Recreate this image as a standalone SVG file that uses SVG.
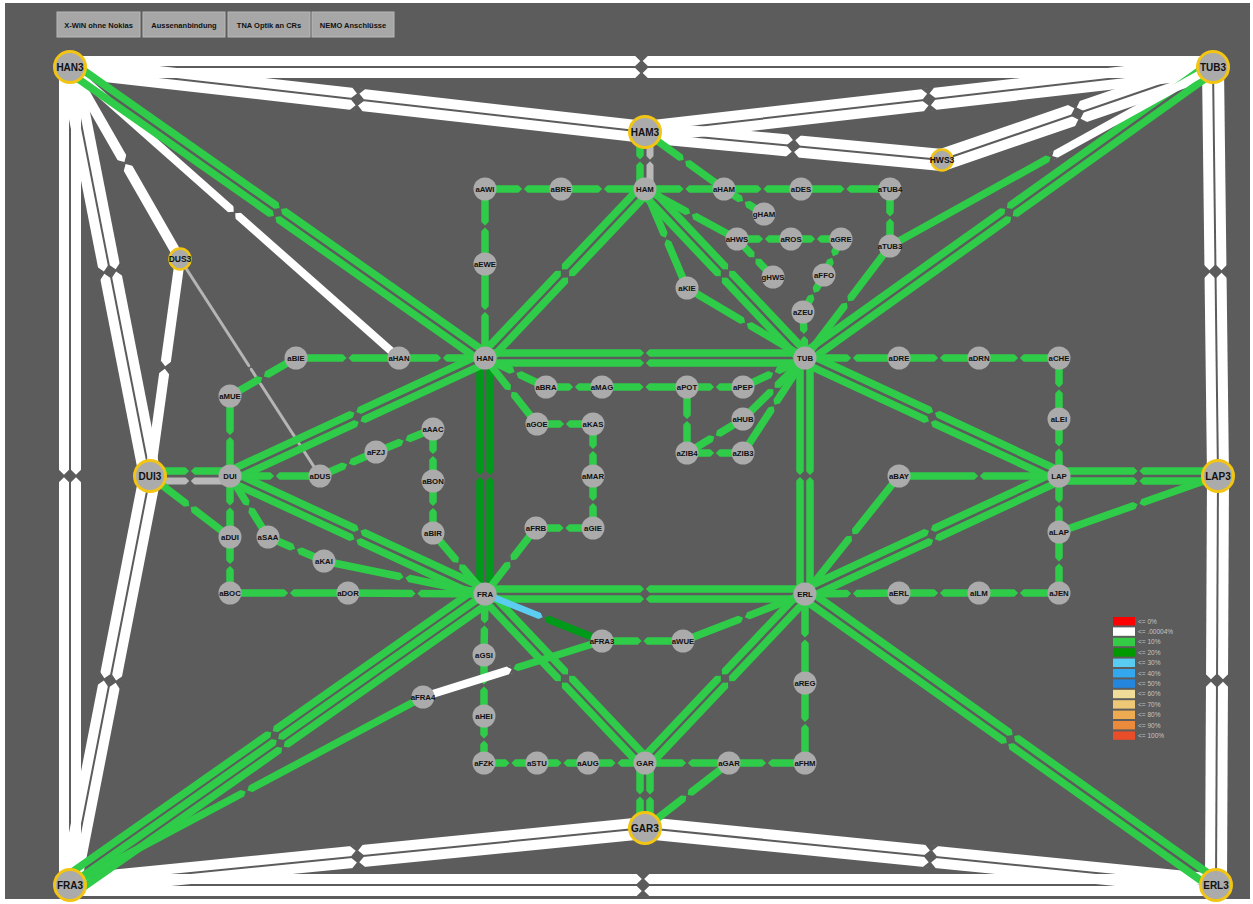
<svg xmlns="http://www.w3.org/2000/svg" width="1253" height="904" viewBox="0 0 1253 904">
<style>
.l{fill:none;stroke-linecap:butt;marker-mid:url(#n)}
.h{fill:none;stroke-linecap:butt}
.e{marker-end:url(#n)}
.w{stroke:#ffffff;stroke-width:10}
.wt{stroke:#ffffff;stroke-width:8}
.g{stroke:#2ecc48;stroke-width:7.5}
.dg{stroke:#009a1a;stroke-width:7.5}
.lb{stroke:#5bcdf0;stroke-width:6.5}
.gr{stroke:#b9b9b9;stroke-width:7}
.gt{stroke:#b5b5b5;stroke-width:3}
.nd circle{fill:#ababab}
.nd text{font-family:"Liberation Sans",Arial,sans-serif;font-weight:bold;font-size:7.8px;fill:#111;text-anchor:middle}
.big circle{fill:#ababab;stroke:#f2c514;stroke-width:3}
.big text{font-family:"Liberation Sans",Arial,sans-serif;font-weight:bold;font-size:10px;fill:#111;text-anchor:middle}
.sm circle{fill:#ababab;stroke:#f2c514;stroke-width:2.5}
.sm text{font-family:"Liberation Sans",Arial,sans-serif;font-weight:bold;font-size:8.5px;fill:#111;text-anchor:middle}
.btn rect{fill:#a7a7a7;stroke:#b8b8b8;stroke-width:1}
.btn text{font-family:"Liberation Sans",Arial,sans-serif;font-weight:bold;font-size:7.5px;fill:#111;text-anchor:middle}
.lg text{font-family:"Liberation Sans",Arial,sans-serif;font-size:6.5px;fill:#c4c4c4}
</style>
<defs>
<marker id="n" viewBox="-2 -1 4 2" markerWidth="4" markerHeight="2" refX="0" refY="0" orient="auto" markerUnits="strokeWidth">
<path d="M-0.68,-0.56L0.68,-0.56L0.12,0L0.68,0.56L-0.68,0.56L-0.12,0Z" fill="#5c5c5c"/>
</marker>
</defs>
<rect x="0" y="0" width="1253" height="904" fill="#ffffff"/>
<rect x="5" y="3" width="1245" height="896" fill="#5c5c5c"/>

<g id="buttons">
<g class="btn" id="btn-xwin"><rect x="57" y="12" width="83" height="25"/><text x="98.5" y="27.5">X-WiN ohne Nokias</text></g>
<g class="btn" id="btn-aussen"><rect x="143" y="12" width="82" height="25"/><text x="184" y="27.5">Aussenanbindung</text></g>
<g class="btn" id="btn-tna"><rect x="228" y="12" width="82" height="25"/><text x="269" y="27.5">TNA Optik an CRs</text></g>
<g class="btn" id="btn-nemo"><rect x="312" y="12" width="82" height="25"/><text x="353" y="27.5">NEMO Anschlüsse</text></g>
</g>

<g id="connectors">
<!-- white backbone -->
<path class="l w" d="M70,61L641.5,61L1213,61"/>
<path class="l w" d="M70,73L641.5,73L1213,73"/>
<path class="l w" d="M70.67,61.04L358.17,93.54L645.67,126.04"/>
<path class="l w" d="M69.33,72.96L356.83,105.46L644.33,137.96"/>
<path class="l w" d="M644.32,126.04L928.32,93.54L1212.32,61.04"/>
<path class="l w" d="M645.68,137.96L929.68,105.46L1213.68,72.96"/>
<path class="l w" d="M645.56,126.03L794.06,140.03L942.56,154.03"/>
<path class="l w" d="M644.44,137.97L792.94,151.97L941.44,165.97"/>
<path class="l w" d="M940.05,154.32L1075.55,107.82L1211.05,61.32"/>
<path class="l w" d="M943.95,165.68L1079.45,119.18L1214.95,72.68"/>
<path class="l w" d="M64,67L64,476L64,885"/>
<path class="l w" d="M76,67L76,476L76,885"/>
<path class="l w" d="M64.11,68.15L104.11,272.65L144.11,477.15"/>
<path class="l w" d="M75.89,65.85L115.89,270.35L155.89,474.85"/>
<path class="l w" d="M70,67L125,163L180,259"/>
<path class="l w" d="M180,259L165,367.5L150,476"/>
<path class="l w" d="M144.11,474.85L104.11,679.35L64.11,883.85"/>
<path class="l w" d="M155.89,477.15L115.89,681.65L75.89,886.15"/>
<path class="l w" d="M69.41,879.03L356.91,850.53L644.41,822.03"/>
<path class="l w" d="M70.59,890.97L358.09,862.47L645.59,833.97"/>
<path class="l w" d="M70,879L643,879L1216,879"/>
<path class="l w" d="M70,891L643,891L1216,891"/>
<path class="l w" d="M645.6,822.03L931.1,850.53L1216.6,879.03"/>
<path class="l w" d="M644.4,833.97L929.9,862.47L1215.4,890.97"/>
<path class="l w" d="M1207,67L1209.5,271.5L1212,476"/>
<path class="l w" d="M1219,67L1221.5,271.5L1224,476"/>
<path class="l w" d="M1212,476L1211,680.5L1210,885"/>
<path class="l w" d="M1224,476L1223,680.5L1222,885"/>
<path class="l wt" d="M70,67L234.5,212.5L399,358"/>
<!-- gray -->
<path class="l gt" d="M180,259L250,367.5L320,476"/>
<path class="l gr" d="M650,132L650,160.5L650,189"/>
<path class="l gr" d="M150,481L190,481L230,481"/>
<!-- green pairs -->
<path class="l g" d="M67.13,71.09L274.63,216.59L482.13,362.09"/>
<path class="l g" d="M72.87,62.91L280.37,208.41L487.87,353.91"/>
<path class="l g" d="M1210.1,62.93L1006.1,208.43L802.1,353.93"/>
<path class="l g" d="M1215.9,71.07L1011.9,216.57L807.9,362.07"/>
<path class="l g" d="M64.55,877.22L272.05,731.72L479.55,586.22"/>
<path class="l g" d="M70,885L277.5,739.5L485,594"/>
<path class="l g" d="M75.45,892.78L282.95,747.28L490.45,601.78"/>
<path class="l g" d="M1218.9,880.92L1013.4,735.42L807.9,589.92"/>
<path class="l g" d="M1213.1,889.08L1007.6,743.58L802.1,598.08"/>
<path class="l g" d="M485,353L645,353L805,353"/>
<path class="l g" d="M485,363L645,363L805,363"/>
<path class="l g" d="M485,589L645,589L805,589"/>
<path class="l g" d="M485,599L645,599L805,599"/>
<path class="l dg" d="M480,358L480,476L480,594"/>
<path class="l dg" d="M490,358L490,476L490,594"/>
<path class="l g" d="M800,358L800,476L800,594"/>
<path class="l g" d="M810,358L810,476L810,594"/>
<path class="l g" d="M488.63,361.44L568.63,276.94L648.63,192.44"/>
<path class="l g" d="M481.37,354.56L561.37,270.06L641.37,185.56"/>
<path class="l g" d="M641.37,192.44L721.37,276.94L801.37,361.44"/>
<path class="l g" d="M648.63,185.56L728.63,270.06L808.63,354.56"/>
<path class="l g" d="M482.9,353.46L355.4,412.46L227.9,471.46"/>
<path class="l g" d="M487.1,362.54L359.6,421.54L232.1,480.54"/>
<path class="l g" d="M487.1,589.46L359.6,530.46L232.1,471.46"/>
<path class="l g" d="M482.9,598.54L355.4,539.54L227.9,480.54"/>
<path class="l g" d="M802.89,362.53L929.89,421.53L1056.89,480.53"/>
<path class="l g" d="M807.11,353.47L934.11,412.47L1061.11,471.47"/>
<path class="l g" d="M807.11,598.53L934.11,539.53L1061.11,480.53"/>
<path class="l g" d="M802.89,589.47L929.89,530.47L1056.89,471.47"/>
<path class="l g" d="M481.37,597.44L561.37,681.94L641.37,766.44"/>
<path class="l g" d="M488.63,590.56L568.63,675.06L648.63,759.56"/>
<path class="l g" d="M801.37,590.56L721.37,675.06L641.37,759.56"/>
<path class="l g" d="M808.63,597.44L728.63,681.94L648.63,766.44"/>
<path class="l g" d="M640,763L640,795.5L640,828"/>
<path class="l g" d="M650,763L650,795.5L650,828"/>
<path class="l g" d="M1059,471L1138.5,471L1218,471"/>
<path class="l g" d="M1059,481L1138.5,481L1218,481"/>
<path class="l g" d="M150,471L190,471L230,471"/>
<path class="l g" d="M640,132L640,160.5L640,189"/>
<!-- green singles -->
<path class="l g" d="M485,189L523,189L561,189"/>
<path class="l g" d="M561,189L603,189L645,189"/>
<path class="l g" d="M645,189L684.5,189L724,189"/>
<path class="l g" d="M724,189L762.5,189L801,189"/>
<path class="l g" d="M801,189L845.5,189L890,189"/>
<path class="l g" d="M645,132L684.5,160.5L724,189"/>
<path class="l g" d="M724,189L744,201.5L764,214"/>
<path class="l g" d="M890,189L890,217.5L890,246"/>
<path class="l g" d="M645,189L691,214L737,239"/>
<path class="l g" d="M737,239L764,239L791,239"/>
<path class="l g" d="M791,239L816,239L841,239"/>
<path class="l g" d="M737,239L755,258L773,277"/>
<path class="l g" d="M841,239L832.5,257L824,275"/>
<path class="l g" d="M824,275L813.5,293.5L803,312"/>
<path class="l g" d="M803,312L804,335L805,358"/>
<path class="l g" d="M645,189L666,238.5L687,288"/>
<path class="l g" d="M687,288L746,323L805,358"/>
<path class="l g" d="M890,246L847.5,302L805,358"/>
<path class="l g" d="M485,189L485,226.5L485,264"/>
<path class="l g" d="M485,264L485,311L485,358"/>
<path class="l g" d="M296,358L347.5,358L399,358"/>
<path class="l g" d="M399,358L442,358L485,358"/>
<path class="l g" d="M230,396L263,377L296,358"/>
<path class="l g" d="M230,396L230,436L230,476"/>
<path class="l g" d="M485,358L515.5,372.5L546,387"/>
<path class="l g" d="M546,387L574,387L602,387"/>
<path class="l g" d="M602,387L644.5,387L687,387"/>
<path class="l g" d="M687,387L715,387L743,387"/>
<path class="l g" d="M743,387L774,372.5L805,358"/>
<path class="l g" d="M485,358L511,391L537,424"/>
<path class="l g" d="M537,424L565,424L593,424"/>
<path class="l g" d="M593,424L593,450L593,476"/>
<path class="l g" d="M593,476L593,502L593,528"/>
<path class="l g" d="M593,528L564.5,528L536,528"/>
<path class="l g" d="M536,528L510.5,561L485,594"/>
<path class="l g" d="M687,387L687,420L687,453"/>
<path class="l g" d="M687,453L715,453L743,453"/>
<path class="l g" d="M687,453L715,436L743,419"/>
<path class="l g" d="M743,419L774,388.5L805,358"/>
<path class="l g" d="M743,453L774,405.5L805,358"/>
<path class="l g" d="M805,358L852,358L899,358"/>
<path class="l g" d="M899,358L939,358L979,358"/>
<path class="l g" d="M979,358L1019,358L1059,358"/>
<path class="l g" d="M1059,358L1059,388.5L1059,419"/>
<path class="l g" d="M1059,419L1059,447.5L1059,476"/>
<path class="l g" d="M1059,476L1059,504L1059,532"/>
<path class="l g" d="M1059,532L1059,562.5L1059,593"/>
<path class="l g" d="M1059,593L1019,593L979,593"/>
<path class="l g" d="M979,593L939,593L899,593"/>
<path class="l g" d="M899,593L852,593.5L805,594"/>
<path class="l g" d="M899,476L979,476L1059,476"/>
<path class="l g" d="M899,476L852,535L805,594"/>
<path class="l g" d="M1059,532L1138.5,504L1218,476"/>
<path class="l g" d="M230,476L275,476L320,476"/>
<path class="l g" d="M320,476L348,464L376,452"/>
<path class="l g" d="M376,452L404.5,440.5L433,429"/>
<path class="l g" d="M433,429L433,455L433,481"/>
<path class="l g" d="M433,481L433,507L433,533"/>
<path class="l g" d="M433,533L459,563.5L485,594"/>
<path class="l g" d="M230,476L230,506.5L230,537"/>
<path class="l g" d="M230,537L230,565L230,593"/>
<path class="l g" d="M230,593L289,593L348,593"/>
<path class="l g" d="M348,593L416.5,593.5L485,594"/>
<path class="l g" d="M230,476L249,506.5L268,537"/>
<path class="l g" d="M268,537L296,549L324,561"/>
<path class="l g" d="M324,561L404.5,577.5L485,594"/>
<path class="l g" d="M150,476L190,506.5L230,537"/>
<path class="l g" d="M485,594L484.5,624.5L484,655"/>
<path class="l g" d="M484,655L484,685.5L484,716"/>
<path class="l g" d="M484,716L484,739.5L484,763"/>
<path class="l g" d="M484,763L510.5,763L537,763"/>
<path class="l g" d="M537,763L562.5,763L588,763"/>
<path class="l g" d="M588,763L616.5,763L645,763"/>
<path class="l g" d="M602,641L642.5,641L683,641"/>
<path class="l g" d="M683,641L744,617.5L805,594"/>
<path class="l g" d="M645,763L687,763L729,763"/>
<path class="l g" d="M729,763L767,763L805,763"/>
<path class="l g" d="M805,763L805,723L805,683"/>
<path class="l g" d="M805,683L805,638.5L805,594"/>
<path class="l g" d="M729,763L687,795.5L645,828"/>
<path class="l g" d="M70,885L246.5,791L423,697"/>
<!-- two-coloured links -->
<path class="h wt" d="M1213,67L1051.5,156.5"/>
<path class="h e g" d="M890,246L1051.5,156.5"/>
<path class="h wt" d="M423,697L512.5,669"/>
<path class="h e g" d="M602,641L512.5,669"/>
<path class="h lb" d="M485,594L543.5,617.5"/>
<path class="h e dg" d="M602,641L543.5,617.5"/>
</g>

<g id="nodes">
<g id="node-HAN3" class="big"><circle cx="70" cy="67" r="15.5"/><text x="70" y="70.5">HAN3</text></g>
<g id="node-TUB3" class="big"><circle cx="1213" cy="67" r="15.5"/><text x="1213" y="70.5">TUB3</text></g>
<g id="node-HAM3" class="big"><circle cx="645" cy="132" r="15.5"/><text x="645" y="135.5">HAM3</text></g>
<g id="node-HWS3" class="sm"><circle cx="942" cy="160" r="10.5"/><text x="942" y="163">HWS3</text></g>
<g id="node-DUS3" class="sm"><circle cx="180" cy="259" r="10.5"/><text x="180" y="262">DUS3</text></g>
<g id="node-DUI3" class="big"><circle cx="150" cy="476" r="15.5"/><text x="150" y="479.5">DUI3</text></g>
<g id="node-LAP3" class="big"><circle cx="1218" cy="476" r="15.5"/><text x="1218" y="479.5">LAP3</text></g>
<g id="node-FRA3" class="big"><circle cx="70" cy="885" r="15.5"/><text x="70" y="888.5">FRA3</text></g>
<g id="node-GAR3" class="big"><circle cx="645" cy="828" r="15.5"/><text x="645" y="831.5">GAR3</text></g>
<g id="node-ERL3" class="big"><circle cx="1216" cy="885" r="15.5"/><text x="1216" y="888.5">ERL3</text></g>

<g id="node-aAWI" class="nd"><circle cx="485" cy="189" r="11.5"/><text x="485" y="191.8">aAWI</text></g>
<g id="node-aBRE" class="nd"><circle cx="561" cy="189" r="11.5"/><text x="561" y="191.8">aBRE</text></g>
<g id="node-HAM" class="nd"><circle cx="645" cy="189" r="11.5"/><text x="645" y="191.8">HAM</text></g>
<g id="node-aHAM" class="nd"><circle cx="724" cy="189" r="11.5"/><text x="724" y="191.8">aHAM</text></g>
<g id="node-aDES" class="nd"><circle cx="801" cy="189" r="11.5"/><text x="801" y="191.8">aDES</text></g>
<g id="node-aTUB4" class="nd"><circle cx="890" cy="189" r="11.5"/><text x="890" y="191.8">aTUB4</text></g>
<g id="node-gHAM" class="nd"><circle cx="764" cy="214" r="11.5"/><text x="764" y="216.8">gHAM</text></g>
<g id="node-aHWS" class="nd"><circle cx="737" cy="239" r="11.5"/><text x="737" y="241.8">aHWS</text></g>
<g id="node-aROS" class="nd"><circle cx="791" cy="239" r="11.5"/><text x="791" y="241.8">aROS</text></g>
<g id="node-aGRE" class="nd"><circle cx="841" cy="239" r="11.5"/><text x="841" y="241.8">aGRE</text></g>
<g id="node-aTUB3" class="nd"><circle cx="890" cy="246" r="11.5"/><text x="890" y="248.8">aTUB3</text></g>
<g id="node-gHWS" class="nd"><circle cx="773" cy="277" r="11.5"/><text x="773" y="279.8">gHWS</text></g>
<g id="node-aFFO" class="nd"><circle cx="824" cy="275" r="11.5"/><text x="824" y="277.8">aFFO</text></g>
<g id="node-aKIE" class="nd"><circle cx="687" cy="288" r="11.5"/><text x="687" y="290.8">aKIE</text></g>
<g id="node-aZEU" class="nd"><circle cx="803" cy="312" r="11.5"/><text x="803" y="314.8">aZEU</text></g>
<g id="node-aEWE" class="nd"><circle cx="485" cy="264" r="11.5"/><text x="485" y="266.8">aEWE</text></g>
<g id="node-aBIE" class="nd"><circle cx="296" cy="358" r="11.5"/><text x="296" y="360.8">aBIE</text></g>
<g id="node-aHAN" class="nd"><circle cx="399" cy="358" r="11.5"/><text x="399" y="360.8">aHAN</text></g>
<g id="node-HAN" class="nd"><circle cx="485" cy="358" r="11.5"/><text x="485" y="360.8">HAN</text></g>
<g id="node-TUB" class="nd"><circle cx="805" cy="358" r="11.5"/><text x="805" y="360.8">TUB</text></g>
<g id="node-aDRE" class="nd"><circle cx="899" cy="358" r="11.5"/><text x="899" y="360.8">aDRE</text></g>
<g id="node-aDRN" class="nd"><circle cx="979" cy="358" r="11.5"/><text x="979" y="360.8">aDRN</text></g>
<g id="node-aCHE" class="nd"><circle cx="1059" cy="358" r="11.5"/><text x="1059" y="360.8">aCHE</text></g>
<g id="node-aBRA" class="nd"><circle cx="546" cy="387" r="11.5"/><text x="546" y="389.8">aBRA</text></g>
<g id="node-aMAG" class="nd"><circle cx="602" cy="387" r="11.5"/><text x="602" y="389.8">aMAG</text></g>
<g id="node-aPOT" class="nd"><circle cx="687" cy="387" r="11.5"/><text x="687" y="389.8">aPOT</text></g>
<g id="node-aPEP" class="nd"><circle cx="743" cy="387" r="11.5"/><text x="743" y="389.8">aPEP</text></g>
<g id="node-aMUE" class="nd"><circle cx="230" cy="396" r="11.5"/><text x="230" y="398.8">aMUE</text></g>
<g id="node-aHUB" class="nd"><circle cx="743" cy="419" r="11.5"/><text x="743" y="421.8">aHUB</text></g>
<g id="node-aLEI" class="nd"><circle cx="1059" cy="419" r="11.5"/><text x="1059" y="421.8">aLEI</text></g>
<g id="node-aGOE" class="nd"><circle cx="537" cy="424" r="11.5"/><text x="537" y="426.8">aGOE</text></g>
<g id="node-aKAS" class="nd"><circle cx="593" cy="424" r="11.5"/><text x="593" y="426.8">aKAS</text></g>
<g id="node-aAAC" class="nd"><circle cx="433" cy="429" r="11.5"/><text x="433" y="431.8">aAAC</text></g>
<g id="node-aZIB4" class="nd"><circle cx="687" cy="453" r="11.5"/><text x="687" y="455.8">aZIB4</text></g>
<g id="node-aZIB3" class="nd"><circle cx="743" cy="453" r="11.5"/><text x="743" y="455.8">aZIB3</text></g>
<g id="node-aFZJ" class="nd"><circle cx="376" cy="452" r="11.5"/><text x="376" y="454.8">aFZJ</text></g>
<g id="node-DUI" class="nd"><circle cx="230" cy="476" r="11.5"/><text x="230" y="478.8">DUI</text></g>
<g id="node-aDUS" class="nd"><circle cx="320" cy="476" r="11.5"/><text x="320" y="478.8">aDUS</text></g>
<g id="node-aBON" class="nd"><circle cx="433" cy="481" r="11.5"/><text x="433" y="483.8">aBON</text></g>
<g id="node-aMAR" class="nd"><circle cx="593" cy="476" r="11.5"/><text x="593" y="478.8">aMAR</text></g>
<g id="node-aBAY" class="nd"><circle cx="899" cy="476" r="11.5"/><text x="899" y="478.8">aBAY</text></g>
<g id="node-LAP" class="nd"><circle cx="1059" cy="476" r="11.5"/><text x="1059" y="478.8">LAP</text></g>
<g id="node-aFRB" class="nd"><circle cx="536" cy="528" r="11.5"/><text x="536" y="530.8">aFRB</text></g>
<g id="node-aGIE" class="nd"><circle cx="593" cy="528" r="11.5"/><text x="593" y="530.8">aGIE</text></g>
<g id="node-aBIR" class="nd"><circle cx="433" cy="533" r="11.5"/><text x="433" y="535.8">aBIR</text></g>
<g id="node-aDUI" class="nd"><circle cx="230" cy="537" r="11.5"/><text x="230" y="539.8">aDUI</text></g>
<g id="node-aSAA" class="nd"><circle cx="268" cy="537" r="11.5"/><text x="268" y="539.8">aSAA</text></g>
<g id="node-aLAP" class="nd"><circle cx="1059" cy="532" r="11.5"/><text x="1059" y="534.8">aLAP</text></g>
<g id="node-aKAI" class="nd"><circle cx="324" cy="561" r="11.5"/><text x="324" y="563.8">aKAI</text></g>
<g id="node-aBOC" class="nd"><circle cx="230" cy="593" r="11.5"/><text x="230" y="595.8">aBOC</text></g>
<g id="node-aDOR" class="nd"><circle cx="348" cy="593" r="11.5"/><text x="348" y="595.8">aDOR</text></g>
<g id="node-FRA" class="nd"><circle cx="485" cy="594" r="11.5"/><text x="485" y="596.8">FRA</text></g>
<g id="node-ERL" class="nd"><circle cx="805" cy="594" r="11.5"/><text x="805" y="596.8">ERL</text></g>
<g id="node-aERL" class="nd"><circle cx="899" cy="593" r="11.5"/><text x="899" y="595.8">aERL</text></g>
<g id="node-aILM" class="nd"><circle cx="979" cy="593" r="11.5"/><text x="979" y="595.8">aILM</text></g>
<g id="node-aJEN" class="nd"><circle cx="1059" cy="593" r="11.5"/><text x="1059" y="595.8">aJEN</text></g>
<g id="node-aFRA3" class="nd"><circle cx="602" cy="641" r="11.5"/><text x="602" y="643.6" font-size="7">aFRA3</text></g>
<g id="node-aWUE" class="nd"><circle cx="683" cy="641" r="11.5"/><text x="683" y="643.8">aWUE</text></g>
<g id="node-aGSI" class="nd"><circle cx="484" cy="655" r="11.5"/><text x="484" y="657.8">aGSI</text></g>
<g id="node-aFRA4" class="nd"><circle cx="423" cy="697" r="11.5"/><text x="423" y="699.6" font-size="7">aFRA4</text></g>
<g id="node-aREG" class="nd"><circle cx="805" cy="683" r="11.5"/><text x="805" y="685.8">aREG</text></g>
<g id="node-aHEI" class="nd"><circle cx="484" cy="716" r="11.5"/><text x="484" y="718.8">aHEI</text></g>
<g id="node-aFZK" class="nd"><circle cx="484" cy="763" r="11.5"/><text x="484" y="765.8">aFZK</text></g>
<g id="node-aSTU" class="nd"><circle cx="537" cy="763" r="11.5"/><text x="537" y="765.8">aSTU</text></g>
<g id="node-aAUG" class="nd"><circle cx="588" cy="763" r="11.5"/><text x="588" y="765.8">aAUG</text></g>
<g id="node-GAR" class="nd"><circle cx="645" cy="763" r="11.5"/><text x="645" y="765.8">GAR</text></g>
<g id="node-aGAR" class="nd"><circle cx="729" cy="763" r="11.5"/><text x="729" y="765.8">aGAR</text></g>
<g id="node-aFHM" class="nd"><circle cx="805" cy="763" r="11.5"/><text x="805" y="765.8">aFHM</text></g>
</g>

<g id="legend" class="lg">
<rect x="1113" y="617" width="22" height="8.4" fill="#ff0000"/><text x="1138" y="623.5">&lt;= 0%</text>
<rect x="1113" y="627.4" width="22" height="8.4" fill="#ffffff"/><text x="1138" y="633.9">&lt;= .00004%</text>
<rect x="1113" y="637.8" width="22" height="8.4" fill="#33cc44"/><text x="1138" y="644.3">&lt;= 10%</text>
<rect x="1113" y="648.2" width="22" height="8.4" fill="#009900"/><text x="1138" y="654.7">&lt;= 20%</text>
<rect x="1113" y="658.6" width="22" height="8.4" fill="#5accf2"/><text x="1138" y="665.1">&lt;= 30%</text>
<rect x="1113" y="669" width="22" height="8.4" fill="#34a8ee"/><text x="1138" y="675.5">&lt;= 40%</text>
<rect x="1113" y="679.4" width="22" height="8.4" fill="#2486dc"/><text x="1138" y="685.9">&lt;= 50%</text>
<rect x="1113" y="689.8" width="22" height="8.4" fill="#efdc98"/><text x="1138" y="696.3">&lt;= 60%</text>
<rect x="1113" y="700.2" width="22" height="8.4" fill="#eec777"/><text x="1138" y="706.7">&lt;= 70%</text>
<rect x="1113" y="710.6" width="22" height="8.4" fill="#eeaa50"/><text x="1138" y="717.1">&lt;= 80%</text>
<rect x="1113" y="721" width="22" height="8.4" fill="#ec8a3c"/><text x="1138" y="727.5">&lt;= 90%</text>
<rect x="1113" y="731.4" width="22" height="8.4" fill="#ea4e28"/><text x="1138" y="737.9">&lt;= 100%</text>
</g>
</svg>
